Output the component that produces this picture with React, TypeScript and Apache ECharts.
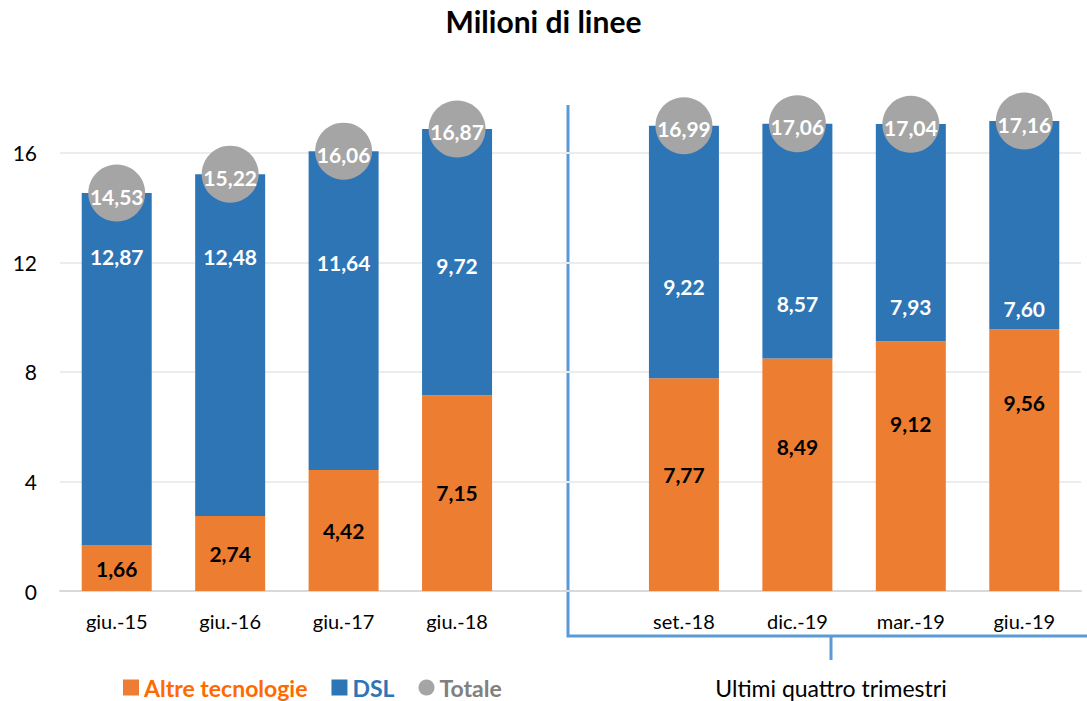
import React, { useEffect, useRef } from "react";
import * as echarts from "echarts";

const categories = ["giu.-15", "giu.-16", "giu.-17", "giu.-18", "", "set.-18", "dic.-19", "mar.-19", "giu.-19"];
const altre = [1.66, 2.74, 4.42, 7.15, null, 7.77, 8.49, 9.12, 9.56];
const dsl = [12.87, 12.48, 11.64, 9.72, null, 9.22, 8.57, 7.93, 7.6];
const totale = [14.53, 15.22, 16.06, 16.87, null, 16.99, 17.06, 17.04, 17.16];
// where the data labels sit, in axis units
const altreLabelAt = [0.83, 1.37, 2.21, 3.58, null, 4.24, 5.26, 6.1, 6.9];
const dslLabelAt = [12.2, 12.2, 12.0, 11.87, null, 11.1, 10.5, 10.4, 10.3];
const yTicks = [0, 4, 8, 12, 16];

const fmt = (v: number) => v.toFixed(2).replace(".", ",");
const FONT = "Lato, 'Noto Sans', sans-serif";
const ORANGE = "#ed7d31";
const BLUE = "#2e75b6";
const GRAY = "#a5a5a5";

export default function App() {
  const ref = useRef<HTMLDivElement>(null);
  useEffect(() => {
    if (!ref.current) return;
    const chart = echarts.init(ref.current, undefined, { renderer: "svg" });
    const gridTop = 98;
    const gridBottom = 110;
    const yMax = 18;
    const unitPx = (701 - gridTop - gridBottom) / yMax;

    const altreData = altre.map((v, i) => {
      if (v == null) return null;
      const center = v / 2;
      const la = altreLabelAt[i] as number;
      return { value: v, label: { offset: [0, (center - la) * unitPx] } };
    });
    const dslData = dsl.map((v, i) => {
      if (v == null) return null;
      const center = (altre[i] as number) + v / 2;
      const la = dslLabelAt[i] as number;
      return { value: v, label: { offset: [0, (center - la) * unitPx] } };
    });

    chart.setOption({
      animation: false,
      textStyle: { fontFamily: FONT },
      title: {
        text: "Milioni di linee",
        left: "center",
        top: 1,
        textStyle: { fontFamily: FONT, fontSize: 30, fontWeight: "bold", color: "#000" },
      },
      legend: {
        left: 118,
        top: 671,
        itemWidth: 16,
        itemHeight: 16,
        itemGap: 24,
        data: [
          { name: "Altre tecnologie", icon: "rect", textStyle: { color: "#ff6a00" } },
          { name: "DSL", icon: "rect", textStyle: { color: BLUE } },
          { name: "Totale", icon: "circle", textStyle: { color: "#808080" } },
        ],
        textStyle: { fontFamily: FONT, fontSize: 23, fontWeight: "bold" },
      },
      grid: { left: 60, right: 6, top: gridTop, bottom: gridBottom },
      xAxis: {
        type: "category",
        data: categories,
        axisLine: { lineStyle: { color: "#d9d9d9", width: 2 } },
        axisTick: { show: false },
        axisLabel: { color: "#000", fontSize: 20, fontFamily: FONT, margin: 20 },
      },
      yAxis: {
        type: "value",
        min: 0,
        max: yMax,
        interval: 4,
        axisLine: { show: false },
        axisTick: { show: false },
        axisLabel: {
          color: "#000",
          fontSize: 21,
          fontFamily: FONT,
          margin: 23,
          showMaxLabel: false,
          formatter: (v: number) => (yTicks.includes(v) ? String(v) : ""),
        },
        splitLine: { showMaxLine: false, lineStyle: { color: "#ececec", width: 2 } },
      },
      series: [
        {
          name: "Altre tecnologie",
          type: "bar",
          stack: "tot",
          data: altreData,
          barWidth: 70,
          itemStyle: { color: ORANGE },
          label: {
            show: true,
            position: "inside",
            color: "#000",
            fontWeight: "bold",
            fontSize: 21,
            fontFamily: FONT,
            formatter: (p: any) => fmt(p.value),
          },
        },
        {
          name: "DSL",
          type: "bar",
          stack: "tot",
          data: dslData,
          barWidth: 70,
          itemStyle: { color: BLUE },
          label: {
            show: true,
            position: "inside",
            color: "#fff",
            fontWeight: "bold",
            fontSize: 21,
            fontFamily: FONT,
            formatter: (p: any) => fmt(p.value),
          },
        },
        {
          name: "Totale",
          type: "scatter",
          data: totale,
          symbol: "circle",
          symbolSize: 57,
          z: 5,
          itemStyle: { color: GRAY, opacity: 1 },
          label: {
            show: true,
            position: "inside",
            color: "#fff",
            fontWeight: "bold",
            fontSize: 21,
            fontFamily: FONT,
            offset: [0, 3],
            formatter: (p: any) => fmt(p.value),
          },
        },
      ],
      graphic: [
        {
          type: "polyline",
          shape: { points: [[568, 105], [568, 636], [1087, 636]] },
          style: { stroke: "#5b9bd5", lineWidth: 3, fill: "none" },
        },
        {
          type: "line",
          shape: { x1: 831, y1: 636, x2: 831, y2: 660 },
          style: { stroke: "#5b9bd5", lineWidth: 3 },
        },
        {
          type: "text",
          x: 831,
          y: 688,
          style: {
            text: "Ultimi quattro trimestri",
            fontFamily: FONT,
            fontSize: 23,
            fill: "#000",
            align: "center",
            verticalAlign: "middle",
          },
        },
      ],
    });
    return () => chart.dispose();
  }, []);
  return <div ref={ref} style={{ position: "absolute", left: 0, top: 0, width: 1087, height: 701 }} />;
}
